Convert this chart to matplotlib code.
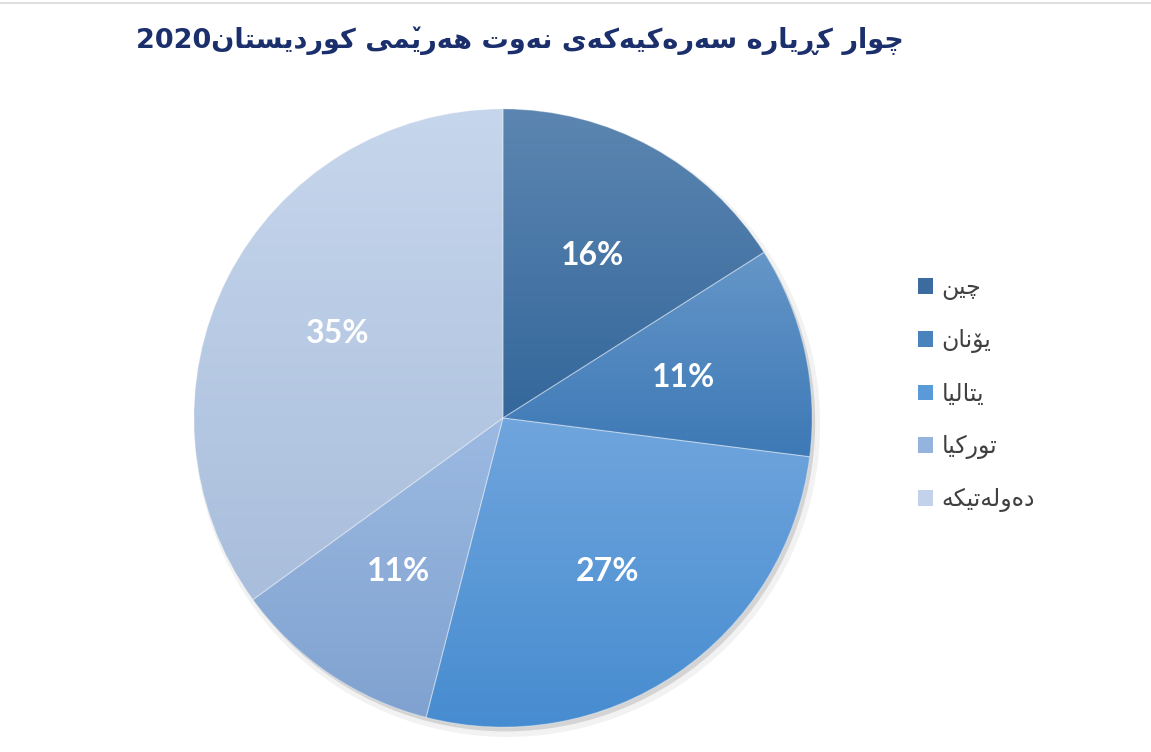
import matplotlib
matplotlib.use('Agg')
import matplotlib.pyplot as plt
import numpy as np
from matplotlib import font_manager, ft2font
from matplotlib.colors import to_rgb
from matplotlib.patches import Rectangle, Circle

# data
title = 'چوار کڕیارە سەرەکیەکەی نەوت هەرێمی کوردیستان2020'
countries = ['چین', 'یۆنان', 'یتالیا', 'تورکیا', 'دەولەتیکە']
shares = [16, 11, 27, 11, 35]

top_colors = ['#5c86b1', '#6596c8', '#70a5dd', '#9cbae2', '#c6d6ec']
bottom_colors = ['#34679b', '#3d79b6', '#468cd0', '#80a2d0', '#a9bedc']
legend_colors = ['#3b6b9f', '#4a82bd', '#5a9ad8', '#94b3dd', '#c1d2ea']

# --- tiny arabic shaper (matplotlib does no shaping itself) ---
# forms: isolated, final, initial, medial
FORMS = {
    'ا': ('\uFE8D', '\uFE8E'),
    'ب': ('\uFE8F', '\uFE90', '\uFE91', '\uFE92'),
    'ت': ('\uFE95', '\uFE96', '\uFE97', '\uFE98'),
    'د': ('\uFEA9', '\uFEAA'),
    'ر': ('\uFEAD', '\uFEAE'),
    'س': ('\uFEB1', '\uFEB2', '\uFEB3', '\uFEB4'),
    'ک': ('\uFB8E', '\uFB8F', '\uFB90', '\uFB91'),
    'ل': ('\uFEDD', '\uFEDE', '\uFEDF', '\uFEE0'),
    'م': ('\uFEE1', '\uFEE2', '\uFEE3', '\uFEE4'),
    'ن': ('\uFEE5', '\uFEE6', '\uFEE7', '\uFEE8'),
    'ه': ('\uFEE9', '\uFEEA', '\uFEEB', '\uFEEC'),
    'و': ('\uFEED', '\uFEEE'),
    'ی': ('\uFBFC', '\uFBFD', '\uFBFE', '\uFBFF'),
    'چ': ('\uFB7A', '\uFB7B', '\uFB7C', '\uFB7D'),
    'ۆ': ('\uFBD9', '\uFBDA'),
    'ڕ': ('\u0695', '\u0695'),
    'ە': ('\u06D5', '\uFEEA'),
    'ێ': ('\u06CE', '\u06CE', '\uFBFE', '\uFBFF'),
}
# letters whose joined forms need a small v drawn on top
V_ABOVE = {'ێ'}
V_MARK = '\u065A'


def font_chars(weight):
    path = font_manager.findfont(font_manager.FontProperties(family='DejaVu Sans', weight=weight))
    return set(ft2font.FT2Font(path).get_charmap())


def pick(ch, form, cmap):
    forms = FORMS[ch]
    g = forms[min(form, len(forms) - 1)]
    return g if ord(g) in cmap else ch


def shape(text, cmap):
    """return visual string and [(start, end)] of glyphs that need a v mark"""
    clusters = []
    for k, ch in enumerate(text):
        if ch in FORMS:
            prev = text[k - 1] if k > 0 else None
            nxt = text[k + 1] if k + 1 < len(text) else None
            jp = prev in FORMS and len(FORMS[prev]) == 4
            jn = len(FORMS[ch]) == 4 and nxt in FORMS
            form = 3 if (jp and jn) else 1 if jp else 2 if jn else 0
            g = pick(ch, form, cmap)
            clusters.append((g, ch in V_ABOVE and g != ch))
        else:
            clusters.append((ch, False))
    # visual order: rtl paragraph, digit / latin runs stay ltr
    runs = []
    for c in clusters:
        ltr = c[0].isascii() and c[0].isalnum()
        if runs and runs[-1][0] == ltr:
            runs[-1][1].append(c)
        else:
            runs.append([ltr, [c]])
    out, marks = '', []
    for ltr, cs in reversed(runs):
        for g, v in (cs if ltr else reversed(cs)):
            if v:
                marks.append((len(out), len(out) + len(g)))
            out += g
    return out, marks


needed = set()
for s in [title] + countries:
    for ch in s:
        needed.update(ord(c) for c in FORMS.get(ch, (ch,)))
bold_map = font_chars('bold')
title_weight = 'bold' if needed <= bold_map else 'normal'
title_map = bold_map if title_weight == 'bold' else font_chars('normal')
normal_map = font_chars('normal')

# --- figure ---
fig = plt.figure(figsize=(11.51, 7.52), dpi=100)
W, H = 1151, 752
cx, cy, half = 503, 418, 340
ax = fig.add_axes([(cx - half) / W, (H - cy - half) / H, 2 * half / W, 2 * half / H])

# soft shadow
ax.add_patch(Circle((0.014, -0.02), 1.012, fc='black', alpha=0.05, lw=0, zorder=0))
ax.add_patch(Circle((0.010, -0.014), 1.0, fc='black', alpha=0.12, lw=0, zorder=0))

wedges, texts, autotexts = ax.pie(
    shares, startangle=90, counterclock=False, radius=1.0,
    autopct=lambda p: f'{p:.0f}%', pctdistance=0.6,
    textprops=dict(color='white', fontsize=23, fontweight='bold', family='Lato'))

g = np.linspace(0, 1, 256)[:, None, None]
for w, c0, c1 in zip(wedges, top_colors, bottom_colors):
    verts = w.get_patch_transform().transform(w.get_path().vertices)
    x0, y0 = verts.min(axis=0)
    x1, y1 = verts.max(axis=0)
    img = (1 - g) * np.array(to_rgb(c0)) + g * np.array(to_rgb(c1))
    im = ax.imshow(img, extent=[x0, x1, y0, y1], origin='upper', aspect='auto',
                   interpolation='bilinear', zorder=1)
    im.set_clip_path(w)
    w.set_facecolor('none')
    w.set_edgecolor((1, 1, 1, 0.3))
    w.set_linewidth(0.8)
    w.set_zorder(2)
for t in autotexts:
    t.set_zorder(3)

ax.set_xlim(-1.1, 1.1)
ax.set_ylim(-1.1, 1.1)
ax.set_aspect('equal')
ax.axis('off')

# title (with the v of ێ laid on top of its joined form)
tkw = dict(fontsize=19.5, fontweight=title_weight, color='#1a2f6b', family='DejaVu Sans')
vis, vmarks = shape(title, title_map)
base_y = 1 - 48 / H
ttl = fig.text(520 / W, base_y, vis, ha='center', va='baseline', **tkw)
renderer = fig.canvas.get_renderer()
left = ttl.get_window_extent(renderer).x0


def text_width(s):
    if not s:
        return 0.0
    tmp = fig.text(0, 0, s, **tkw)
    w = tmp.get_window_extent(renderer).width
    tmp.remove()
    return w


if ord(V_MARK) in title_map:
    for a, b in vmarks:
        xc = left + (text_width(vis[:a]) + text_width(vis[:b])) / 2
        fig.text(xc / W, base_y, V_MARK, ha='center', va='baseline', **tkw)

handles = [Rectangle((0, 0), 1, 1, fc=c, ec='none') for c in legend_colors]
labels = [shape(c, normal_map)[0] for c in countries]
fig.legend(handles, labels, loc='upper left', bbox_to_anchor=(918 / W, 1 - 275 / H),
           frameon=False, prop=font_manager.FontProperties(family='DejaVu Sans', size=17),
           labelcolor='#404040', handlelength=0.64, handleheight=0.64,
           handletextpad=0.35, labelspacing=1.2, borderpad=0, borderaxespad=0)

fig.add_artist(plt.Line2D([0, 1], [1 - 3 / H, 1 - 3 / H], color='#d9d9d9', lw=1.2))

fig.savefig('out.png', dpi=100)
